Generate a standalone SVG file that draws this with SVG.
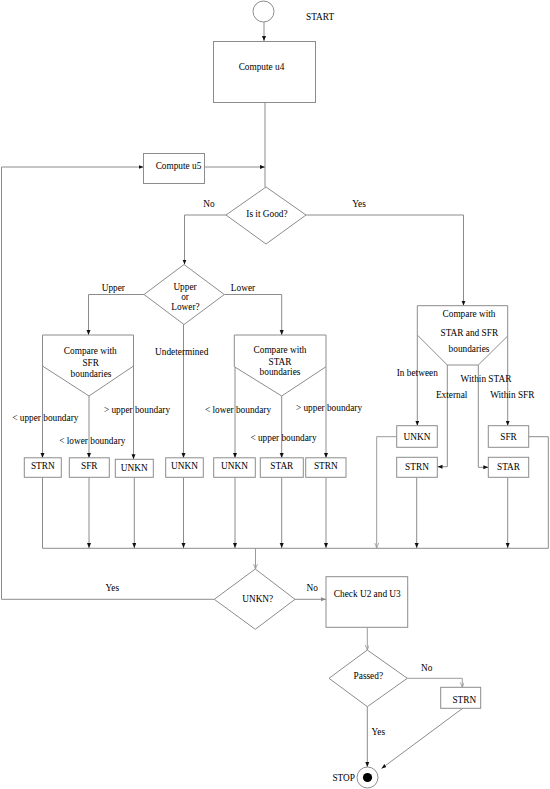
<svg xmlns="http://www.w3.org/2000/svg" width="550" height="789" viewBox="0 0 550 789">
<defs>
<marker id="a" markerUnits="userSpaceOnUse" markerWidth="6" markerHeight="5" viewBox="0 0 6 5" refX="5" refY="2" orient="auto"><path d="M0,0 L5,2 L0,4 z" fill="#111"/></marker>
<marker id="g" markerUnits="userSpaceOnUse" markerWidth="6" markerHeight="5" viewBox="0 0 6 5" refX="5" refY="2" orient="auto"><path d="M0,0 L5,2 L0,4" fill="none" stroke="#999" stroke-width="0.8"/></marker>
<marker id="gf" markerUnits="userSpaceOnUse" markerWidth="6" markerHeight="5" viewBox="0 0 6 5" refX="5" refY="2" orient="auto"><path d="M0,0 L5,2 L0,4 z" fill="#888"/></marker>
</defs>
<style>
.s{fill:#fff;stroke:#8c8c8c;stroke-width:1}
.c{fill:none;stroke:#8c8c8c;stroke-width:1}
.ca{fill:none;stroke:#8c8c8c;stroke-width:1;marker-end:url(#a)}
.cg{fill:none;stroke:#9a9a9a;stroke-width:1;marker-end:url(#g)}
.cgf{fill:none;stroke:#8c8c8c;stroke-width:1;marker-end:url(#gf)}
text{font-family:"Liberation Serif","Times New Roman",serif;font-size:9.3px;fill:#000}
.m{text-anchor:middle}
</style>
<rect width="550" height="789" fill="#fff"/>

<g id="connectors">
<path class="ca" d="M264,22 V41"/>
<path class="c" d="M265,102.5 V187"/>
<path class="ca" d="M204.5,167 H265"/>
<path class="ca" d="M214.3,599.3 H1.5 V167 H143.5"/>
<path class="ca" d="M226,215 H184.5 V264.5"/>
<path class="ca" d="M306,215 H463.5 V305.7"/>
<path class="ca" d="M144,294.5 H88.5 V335"/>
<path class="ca" d="M224.3,294.5 H281.7 V335"/>
<path class="ca" d="M183.5,324.5 V458"/>
<path class="ca" d="M42.5,366 V458"/>
<path class="ca" d="M89,396 V458"/>
<path class="ca" d="M133.5,366 V459.3"/>
<path class="ca" d="M235,366.7 V458"/>
<path class="ca" d="M281.7,396 V458"/>
<path class="ca" d="M326,366.7 V458"/>
<path class="ca" d="M417.3,335 V425.7"/>
<path class="ca" d="M447.3,365 V466.7 H437.5"/>
<path class="ca" d="M478.3,365 V467.3 H488.3"/>
<path class="ca" d="M507.7,336 V425.7"/>
<path class="c" d="M42.5,477.3 V548.3 H548.3 V436.7 H528.7"/>
<path class="ca" d="M89,477.3 V548"/>
<path class="ca" d="M134.3,477.3 V548"/>
<path class="ca" d="M183.5,477.3 V548"/>
<path class="ca" d="M235,477.3 V548"/>
<path class="ca" d="M281.7,477.3 V548"/>
<path class="ca" d="M326,477.3 V548"/>
<path class="cg" d="M396.7,436.7 H376.7 V548"/>
<path class="ca" d="M416.7,477.3 V548"/>
<path class="ca" d="M507.7,477.3 V548"/>
<path class="cg" d="M255.5,548.3 V569"/>
<path class="cgf" d="M295,599.3 H326"/>
<path class="cg" d="M367.3,627.3 V650"/>
<path class="cg" d="M407.3,678.3 H462.3 V687.3"/>
<path class="ca" d="M462.7,708.3 L381.5,768.5"/>
<path class="ca" d="M367.3,706.7 V767"/>
</g>

<g id="start">
<circle class="s" cx="263.5" cy="11.5" r="10.5"/>
<text x="306" y="19.5">START</text>
</g>
<g id="compute-u4">
<rect class="s" x="213.5" y="41.5" width="102" height="61"/>
<text class="m" x="261.5" y="70">Compute u4</text>
</g>
<g id="compute-u5">
<rect class="s" x="143.5" y="153.5" width="61" height="30"/>
<text class="m" x="178.5" y="169">Compute u5</text>
</g>
<g id="is-it-good">
<polygon class="s" points="266,187 306,215 266,244 226,215"/>
<text class="m" x="267" y="217">Is it Good?</text>
<text class="m" x="209" y="207">No</text>
<text class="m" x="359" y="207">Yes</text>
</g>
<g id="upper-or-lower">
<polygon class="s" points="184,264.5 224.3,294.5 184,324.5 144,294.5"/>
<text class="m" x="185" y="289.5">Upper</text>
<text class="m" x="185" y="299.5">or</text>
<text class="m" x="185.5" y="310">Lower?</text>
<text class="m" x="113.3" y="291">Upper</text>
<text class="m" x="243" y="291">Lower</text>
<text class="m" x="181.7" y="354.5">Undetermined</text>
</g>
<g id="compare-sfr">
<polygon class="s" points="42.5,335 133.5,335 133.5,366 89,396 42.5,366"/>
<text class="m" x="90.3" y="353.5">Compare with</text>
<text class="m" x="90.7" y="366">SFR</text>
<text class="m" x="91" y="377">boundaries</text>
<text class="m" x="45.3" y="421">&lt; upper boundary</text>
<text class="m" x="137" y="413">&gt; upper boundary</text>
<text class="m" x="92.3" y="444">&lt; lower boundary</text>
</g>
<g id="compare-star">
<polygon class="s" points="234.3,335 326,335 326,366.7 281.7,396 234.3,366.7"/>
<text class="m" x="280" y="353">Compare with</text>
<text class="m" x="280" y="364.5">STAR</text>
<text class="m" x="280" y="375">boundaries</text>
<text class="m" x="238" y="413">&lt; lower boundary</text>
<text class="m" x="329" y="411">&gt; upper boundary</text>
<text class="m" x="283.5" y="441">&lt; upper boundary</text>
</g>
<g id="compare-star-sfr">
<polygon class="s" points="417.3,305.7 507.7,305.7 507.7,336 478.3,365 447.3,365 417.3,335"/>
<text class="m" x="469" y="317">Compare with</text>
<text class="m" x="469.3" y="336">STAR and SFR</text>
<text class="m" x="469" y="352">boundaries</text>
<text class="m" x="417.3" y="376">In between</text>
<text class="m" x="486" y="381.5">Within STAR</text>
<text class="m" x="451.7" y="398">External</text>
<text class="m" x="512.3" y="398">Within SFR</text>
</g>
<g id="box-strn-1"><rect class="s" x="24.3" y="457.8" width="37" height="19.5"/><text class="m" x="42.8" y="469">STRN</text></g>
<g id="box-sfr-1"><rect class="s" x="69.3" y="457.8" width="40" height="19.5"/><text class="m" x="89.3" y="469">SFR</text></g>
<g id="box-unkn-1"><rect class="s" x="115.3" y="459.3" width="38" height="18"/><text class="m" x="134.3" y="471">UNKN</text></g>
<g id="box-unkn-2"><rect class="s" x="165.7" y="457.8" width="37.6" height="19.5"/><text class="m" x="184.5" y="469">UNKN</text></g>
<g id="box-unkn-3"><rect class="s" x="213.7" y="457.8" width="41.6" height="19.5"/><text class="m" x="234.5" y="469">UNKN</text></g>
<g id="box-star-1"><rect class="s" x="260.3" y="457.8" width="43" height="19.5"/><text class="m" x="281.8" y="469">STAR</text></g>
<g id="box-strn-2"><rect class="s" x="305.7" y="457.8" width="40.3" height="19.5"/><text class="m" x="325.8" y="469">STRN</text></g>
<g id="box-unkn-4"><rect class="s" x="396.7" y="425.7" width="40.6" height="21.6"/><text class="m" x="417" y="439.5">UNKN</text></g>
<g id="box-strn-3"><rect class="s" x="396.7" y="457.3" width="40.6" height="20"/><text class="m" x="417" y="470">STRN</text></g>
<g id="box-sfr-2"><rect class="s" x="488.3" y="425.7" width="40.4" height="21.6"/><text class="m" x="508.5" y="439.5">SFR</text></g>
<g id="box-star-2"><rect class="s" x="488.3" y="457.3" width="40.4" height="20"/><text class="m" x="508.5" y="470">STAR</text></g>
<g id="unkn-q">
<polygon class="s" points="255.3,569 295,599.3 255.3,629.3 214.3,599.3"/>
<text class="m" x="257.7" y="601.5">UNKN?</text>
<text class="m" x="112.3" y="591">Yes</text>
<text class="m" x="312.3" y="591">No</text>
</g>
<g id="check-u2-u3">
<rect class="s" x="326" y="576.7" width="81.7" height="50.6"/>
<text class="m" x="367.3" y="597">Check U2 and U3</text>
</g>
<g id="passed">
<polygon class="s" points="367.3,650 407.3,678.3 367.3,706.7 329,678.3"/>
<text class="m" x="368.3" y="678.5">Passed?</text>
<text class="m" x="426.7" y="670.5">No</text>
<text class="m" x="378.3" y="735">Yes</text>
</g>
<g id="box-strn-4"><rect class="s" x="440.7" y="687.3" width="40" height="21"/><text class="m" x="464.3" y="702.5">STRN</text></g>
<g id="stop">
<circle class="s" cx="367.5" cy="777.5" r="10.5"/>
<circle cx="367.5" cy="777.5" r="4.6" fill="#000"/>
<text x="355" y="780.5" text-anchor="end">STOP</text>
</g>
</svg>
